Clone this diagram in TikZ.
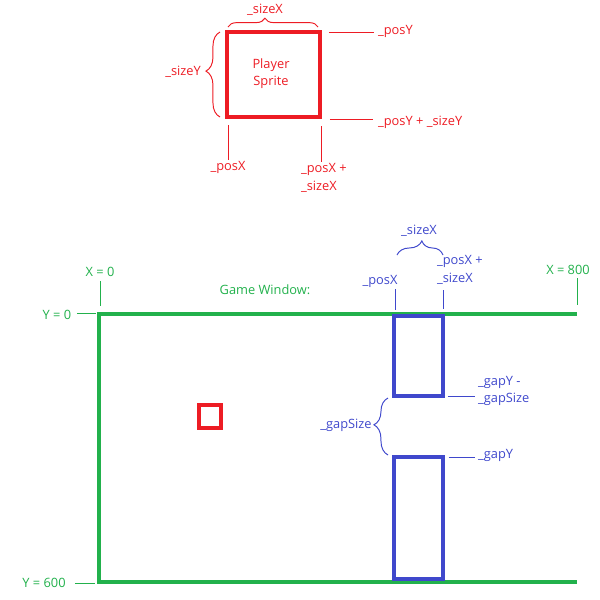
\documentclass[tikz,border=0pt]{standalone}
\usepackage{fontspec}
\setmainfont{Open Sans}
\usetikzlibrary{decorations.pathreplacing}
\definecolor{spritered}{RGB}{237,28,36}
\definecolor{windowgreen}{RGB}{34,177,76}
\definecolor{pipeblue}{RGB}{63,72,204}
\tikzset{
	lbl/.style={font=\fontsize{7.3}{9.8}\selectfont, inner sep=1pt},
	curly/.style={decorate, decoration={brace, amplitude=#1, aspect=0.5}},
	curly/.default=6pt,
	thick line/.style={line width=1.9pt},
	thin line/.style={line width=0.55pt}
}

\begin{document}
\begin{tikzpicture}[x=0.02cm, y=-0.02cm]
		\useasboundingbox (0,0) rectangle (600,600);
		%%%%% SPRITE %%%%%
		\draw[spritered, thick line] (227,32) rectangle (320,117);
		\node[lbl, spritered, align=center] (sprite) at (271,74) {Player\\Sprite};
		
		\draw[spritered, thin line, curly=5pt, decoration={aspect=0.41}] (228,27) -- (318,27);
		\node[lbl, spritered] (sizeXred) at (265,10) {\_sizeX};
		
		\draw[spritered, thin line, curly=8pt, decoration={aspect=0.54}] (220,117) -- (220,32);
		\node[lbl, spritered] (sizeYred) at (183,72) {\_sizeY};
		
		\draw[spritered, thin line] (329,32) -- (374,32);
		\node[lbl, spritered, anchor=west] (posYred) at (376,31) {\_posY};
		\draw[spritered, thin line] (330,119) -- (373,119);
		\node[lbl, spritered, anchor=west] (posYsizeY) at (376,122) {\_posY + \_sizeY};
		
		\draw[spritered, thin line] (228,125) -- (228,160);
		\node[lbl, spritered] (posXred) at (228,167) {\_posX};
		\draw[spritered, thin line] (321,126) -- (321,162);
		\node[lbl, spritered, anchor=west, align=left] (posXsizeXred) at (299,178) {\_posX +\\\_sizeX};
		
		%%%%% GAME WINDOW %%%%%
		\draw[windowgreen, thick line] (577,314) -- (99,314) -- (99,582) -- (577,582);
		\node[lbl, windowgreen] (title) at (265,290) {Game Window:};
		
		\draw[windowgreen, thin line] (100,281) -- (100,306);
		\node[lbl, windowgreen] (xzero) at (100,272) {X = 0};
		\draw[windowgreen, thin line] (577,278) -- (577,305);
		\node[lbl, windowgreen] (xend) at (568,270) {X = 800};
		\draw[windowgreen, thin line] (77,313) -- (96,313);
		\node[lbl, windowgreen] (yzero) at (57,315) {Y = 0};
		\draw[windowgreen, thin line] (75,583) -- (95,583);
		\node[lbl, windowgreen] (yend) at (44,583) {Y = 600};
		
		\draw[spritered, thick line] (199,405) rectangle (221,428);
		
		%%%%% PIPES %%%%%
		\draw[pipeblue, thick line] (394,316) rectangle (443,396);
		\draw[pipeblue, thick line] (394,457) rectangle (443,579);
		
		\draw[pipeblue, thin line] (395,289) -- (395,310);
		\node[lbl, pipeblue] (posXblue) at (380,281) {\_posX};
		\draw[pipeblue, thin line] (443,290) -- (443,309);
		\node[lbl, pipeblue, anchor=west, align=left] (posXsizeXblue) at (435,270) {\_posX +\\\_sizeX};
		
		\draw[pipeblue, thin line, curly=8pt, decoration={aspect=0.54}] (397,255) -- (443,255);
		\node[lbl, pipeblue] (sizeXblue) at (419,231) {\_sizeX};
		
		\draw[pipeblue, thin line] (448,396) -- (475,396);
		\node[lbl, pipeblue, anchor=west, align=left] (gapYgapSize) at (476,391) {\_gapY -\\\_gapSize};
		\draw[pipeblue, thin line] (449,457) -- (475,457);
		\node[lbl, pipeblue, anchor=west] (gapY) at (476,455) {\_gapY};
		
		\draw[pipeblue, thin line, curly=8pt, decoration={aspect=0.53}] (388,455) -- (388,398);
		\node[lbl, pipeblue] (gapSize) at (346,425) {\_gapSize};
	\end{tikzpicture}
\end{document}
